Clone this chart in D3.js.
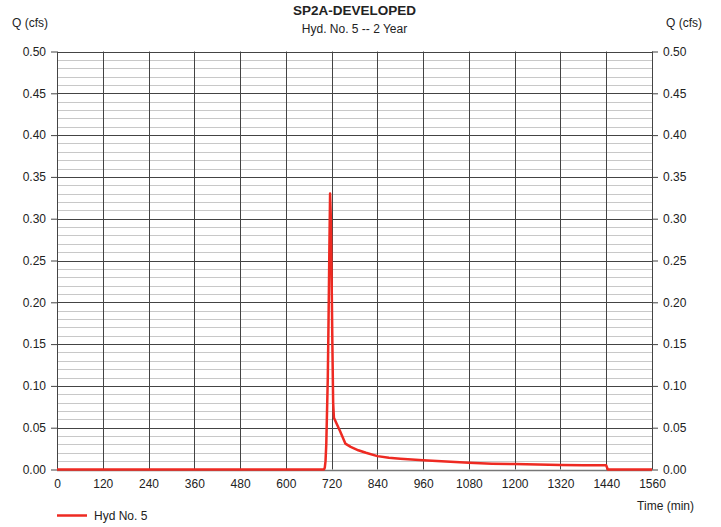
<!DOCTYPE html>
<html><head><meta charset="utf-8">
<script src="https://cdn.jsdelivr.net/npm/d3@7"></script>
<style>body{margin:0;background:#fff}svg{display:block}text{font-family:"Liberation Sans",Arial,sans-serif;fill:#222}</style>
</head><body><div id="c"></div>
<script>
const title = "SP2A-DEVELOPED";
const subtitle = "Hyd. No. 5 -- 2 Year";
const seriesName = "Hyd No. 5";
const timeMin = [0,700,702,704,706,708,710,712,714,716,718,720,722,724,726,742,756,770,790,810,840,870,900,960,1020,1080,1140,1200,1260,1320,1380,1440,1444,1560];
const flowCfs = [0,0,0.002,0.01,0.03,0.07,0.11,0.18,0.26,0.33,0.30,0.23,0.15,0.08,0.062,0.046,0.031,0.027,0.023,0.020,0.016,0.014,0.013,0.011,0.0095,0.008,0.007,0.0065,0.006,0.0055,0.0052,0.005,0,0];
const xTicks = [0,120,240,360,480,600,720,840,960,1080,1200,1320,1440,1560];
const yTicks = [0,0.05,0.1,0.15,0.2,0.25,0.3,0.35,0.4,0.45,0.5];
const yMinor = d3.range(0,0.5001,0.01);

const W=721,H=527, L=57, R=652, T=51.5, B=469.5;
const svg=d3.select("#c").append("svg").attr("width",W).attr("height",H);
const x=d3.scaleLinear().domain([0,1560]).range([L,R]);
const y=d3.scaleLinear().domain([0,0.5]).range([B,T]);

svg.append("g").selectAll("line").data(yMinor).join("line")
 .attr("x1",L).attr("x2",R).attr("y1",d=>Math.round(y(d))+0.5).attr("y2",d=>Math.round(y(d))+0.5)
 .attr("stroke","#c8c8c8").attr("stroke-width",1);
svg.append("g").selectAll("line").data(yTicks).join("line")
 .attr("x1",L).attr("x2",R).attr("y1",d=>Math.round(y(d))+0.5).attr("y2",d=>Math.round(y(d))+0.5)
 .attr("stroke","#444").attr("stroke-width",1);
svg.append("g").selectAll("line").data(xTicks).join("line")
 .attr("x1",d=>Math.round(x(d))+0.5).attr("x2",d=>Math.round(x(d))+0.5).attr("y1",T).attr("y2",B)
 .attr("stroke","#444").attr("stroke-width",1);
svg.append("line").attr("x1",L).attr("x2",R).attr("y1",Math.round(B)+0.5).attr("y2",Math.round(B)+0.5).attr("stroke","#777").attr("stroke-width",1.5);

const fmt=d3.format(".2f");
const axL=svg.append("g").attr("transform",`translate(${L},0)`).call(d3.axisLeft(y).tickValues(yTicks).tickFormat(fmt).tickSize(6).tickPadding(5));
const axR=svg.append("g").attr("transform",`translate(${R},0)`).call(d3.axisRight(y).tickValues(yTicks).tickFormat(fmt).tickSize(6).tickPadding(5));
const axB=svg.append("g").attr("transform",`translate(0,${B})`).call(d3.axisBottom(x).tickValues(xTicks).tickFormat(d3.format("d")).tickSize(0).tickPadding(10));
[axL,axR,axB].forEach(a=>{a.select(".domain").remove();a.selectAll("line").attr("stroke","#444");a.selectAll("text").attr("font-size",12).attr("fill","#222").attr("font-family","Liberation Sans, Arial, sans-serif");});

svg.append("path").datum(timeMin.map((t,i)=>[t,flowCfs[i]]))
 .attr("d",d3.line().x(d=>x(d[0])).y(d=>y(d[1])))
 .attr("fill","none").attr("stroke","#ee2a22").attr("stroke-width",2.5).attr("stroke-linejoin","round");

svg.append("text").attr("x",(L+R)/2).attr("y",15).attr("text-anchor","middle").attr("font-size",13.5).attr("font-weight","bold").text(title);
svg.append("text").attr("x",(L+R)/2).attr("y",33).attr("text-anchor","middle").attr("font-size",12).text(subtitle);
svg.append("text").attr("x",12).attr("y",27).attr("font-size",12).text("Q (cfs)");
svg.append("text").attr("x",702).attr("y",27).attr("text-anchor","end").attr("font-size",12).text("Q (cfs)");
svg.append("text").attr("x",694).attr("y",510).attr("text-anchor","end").attr("font-size",12).text("Time (min)");
svg.append("line").attr("x1",57).attr("x2",87).attr("y1",515.5).attr("y2",515.5).attr("stroke","#ee2a22").attr("stroke-width",2.5);
svg.append("text").attr("x",94).attr("y",520).attr("font-size",12).text(seriesName);
</script></body></html>
